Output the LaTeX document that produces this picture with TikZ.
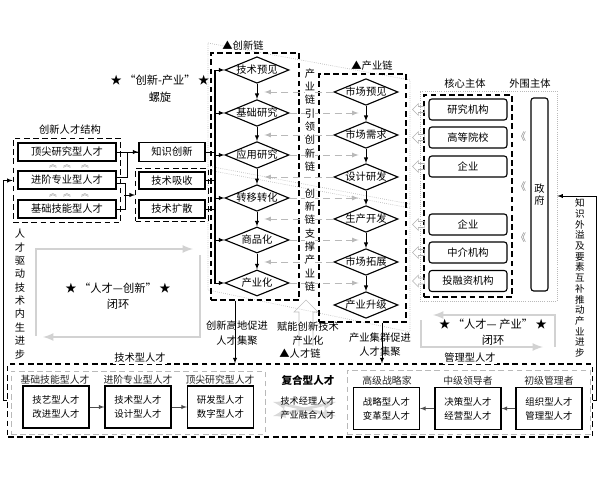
\documentclass[tikz,border=0pt]{standalone}
\usepackage{fontspec}
\setmainfont{Noto Sans CJK SC}
\usetikzlibrary{shapes.geometric,fit}
\tikzset{
  box/.style={draw,line width=0.8pt,minimum width=2.45cm,minimum height=0.45cm,inner sep=0pt},
  dbox/.style={draw,line width=0.8pt,dash pattern=on 4pt off 2.5pt},
  gdot/.style={draw=gray!55,densely dotted,line width=0.5pt},
  gdash/.style={draw=gray!55,dash pattern=on 4pt off 2.5pt,line width=0.6pt},
  dia/.style={draw,diamond,line width=0.8pt,aspect=2.4,inner sep=0pt,minimum width=1.6cm,minimum height=0.65cm},
  garrow/.style={draw=gray!55,dash pattern=on 5pt off 3pt,line width=0.6pt,->},
  rbox/.style={draw,rounded corners=2pt,line width=0.8pt,minimum width=1.95cm,minimum height=0.525cm,inner sep=0pt},
  gloop/.style={draw=gray!35,line width=1.5pt,->},
  vtext/.style={align=center,inner sep=0pt,font=\fontsize{7.3}{9.5}\selectfont},
  pbox/.style={draw,line width=0.8pt,align=center,minimum width=1.65cm,minimum height=1.05cm,font=\fontsize{6.7}{10}\selectfont},
  head/.style={text=gray!30!black,font=\fontsize{7}{9}\selectfont}
}
\begin{document}
\begin{tikzpicture}[x=0.025cm,y=-0.025cm,>=latex,font=\fontsize{7.3}{9}\selectfont]
  \useasboundingbox (0,0) rectangle (600,480);
  \draw[gdot] (208,43) -- (410,80) -- (410,332) -- (208,290) -- cycle;
  \draw[gdot] (208,166) -- (410,204);
  \draw[gdot] (208,170) -- (410,208);

  \node[align=center,font=\fontsize{8}{12}\selectfont] at (160,89) {★ “创新-产业” ★\\螺旋};
  \node at (70,130) {创新人才结构};
  \node[box] (t1) at (67,152) {顶尖研究型人才};
  \node[box] (t2) at (67,180) {进阶专业型人才};
  \node[box] (t3) at (67,209) {基础技能型人才};
  \node[dbox,fit=(t1)(t2)(t3),inner sep=3pt] (tt) {};
  \foreach \x in {53,67,85} {
    \node[gray,inner sep=0pt,font=\fontsize{5.5}{6}\selectfont] at (\x,166.5) {︽};
    \node[gray,inner sep=0pt,font=\fontsize{5.5}{6}\selectfont] at (\x,195) {︽};
  }
  \node[box,minimum width=1.65cm,minimum height=0.475cm] (k1) at (172,152) {知识创新};
  \node[box,minimum width=1.65cm,minimum height=0.425cm] (k2) at (172,180.5) {技术吸收};
  \node[box,minimum width=1.65cm,minimum height=0.45cm] (k3) at (172,209) {技术扩散};
  \node[dbox,fit=(k2)(k3),inner sep=2pt] (kt) {};
  \path[->] (t1) edge (k1);
  \draw ([yshift=2pt]t2.east) -- ++(11,0) |- (k1.west);
  \draw ([yshift=-2pt]t2.east) -- ++(9,0) |- (t3.east);
  \draw[<-] (kt.west) -- ++(-11,0);

  \node[dbox,minimum width=2.2cm,minimum height=6.175cm] (cbox) at (255,176.5) {};
  \node at (243,46) {▲创新链};
  \foreach \i/\t/\y in {1/技术预见/70,2/基础研究/113,3/应用研究/155,4/转移转化/198,5/商品化/240,6/产业化/283}
    \node[dia] (c\i) at (257,\y) {\t};
  \foreach \i/\j in {1/2,2/3,3/4,4/5,5/6}
    \path[->] (c\i) edge (c\j);
  \draw[line width=0.8pt] (215,70) -- (215,283);
  \foreach \i in {1,...,6}
    \draw[<-] (c\i.west) -- ++(-10,0);
  \draw (k1.east) -- ++(10,0);
  \draw (k2.east) -- ++(10,0);
  \draw (k3.east) -- ++(10,0);

  \node[dbox,minimum width=2.175cm,minimum height=6.2cm] (ibox) at (362.5,198) {};
  \node at (372,66) {▲产业链};
  \foreach \i/\t/\y in {1/市场预见/92,2/市场需求/135,3/设计研发/177,4/生产开发/219,5/市场拓展/262,6/产业升级/305}
    \node[dia] (p\i) at (366,\y) {\t};
  \foreach \i/\j in {1/2,2/3,3/4,4/5,5/6}
    \path[->] (p\i) edge (p\j);
  \foreach \i in {2,...,6}
    \draw[garrow] (c\i.east) -- ++(69,0);
  \foreach \i in {1,...,5}
    \draw[garrow] (p\i.west) -- ++(-69,0);
  \node[vtext,fill=white] at (310,120) {产\\业\\链\\引\\领\\创\\新\\链};
  \node[vtext,fill=white] at (310,240) {创\\新\\链\\支\\撑\\产\\业\\链};

  \node[gdot,minimum width=3.425cm,minimum height=5.25cm] (outer) at (488.5,196) {};
  \node[dbox,minimum width=2.2cm,minimum height=5.05cm] (core) at (468,196) {};
  \node at (465,84) {核心主体};
  \node at (530,84) {外围主体};
  \foreach \i/\t/\y in {1/研究机构/109.5,2/高等院校/137.5,3/企业/166.5,4/企业/224.5,5/中介机构/252.5,6/投融资机构/281}
    \node[rbox] (s\i) at (468,\y) {\t};
  \foreach \i in {1,...,6}
    \draw[gray!60] (s\i.west) ++(-4,-3) -- ++(-6,0) -- ++(0,-3) -- ++(-6,6) -- ++(6,6) -- ++(0,-3) -- ++(6,0) -- cycle;
  \node[rbox,minimum width=0.425cm,minimum height=4.825cm,align=center] (gov) at (539.5,194.5) {政\\府};
  \foreach \y in {137,187,238}
    \node[gray] at (521,\y) {《};

  \draw[gloop] (36,336) -- (36,249) -- (193,249);
  \draw[gloop] (200,255) -- (200,337) -- (43,337);
  \node[align=center,font=\fontsize{8}{11}\selectfont] at (118,296) {★ “人才—创新” ★\\闭环};
  \draw[gloop] (555,347) -- (555,315) -- (433,315);
  \draw[gloop] (421,320) -- (421,347) -- (543,347);
  \node[align=center,font=\fontsize{8}{11}\selectfont] at (493,332) {★ “人才— 产业” ★\\闭环};
  \node[vtext] at (20,294) {人\\才\\驱\\动\\技\\术\\内\\生\\进\\步};
  \node[vtext,font=\fontsize{6.8}{7.6}\selectfont] at (580,278) {知\\识\\外\\溢\\及\\要\\素\\互\\补\\推\\动\\产\\业\\进\\步};

  \draw[gray!50] (299,346) -- (299,312) -- (294,312) -- (306,300) -- (318,312) -- (313,312) -- (313,346);
  \node[align=center,font=\fontsize{7.3}{10.5}\selectfont] at (237,333.5) {创新高地促进\\人才集聚};
  \node[align=center,font=\fontsize{7.3}{10.5}\selectfont] at (308,333.5) {赋能创新技术\\产业化};
  \node at (300,354) {▲人才链};
  \node[align=center,font=\fontsize{7.3}{10}\selectfont] at (380,345) {产业集群促进\\人才集聚};

  \node[dbox,minimum width=14.6cm,minimum height=1.825cm] (bigbox) at (300,400.5) {};
  \draw[->] ([xshift=-0.5cm]cbox.south) -- ([xshift=-0.5cm]cbox.south |- bigbox.north);
  \draw[->] ([xshift=0.4875cm]ibox.south) -- ([xshift=0.4875cm]ibox.south |- bigbox.north);
  \draw[->] (bigbox.west) -- ++(-4,0) |- (tt.west);
  \draw[->] (bigbox.east) -- ++(4,0) |- (outer.east);
  \node[fill=white,inner sep=1pt] at (140,358) {技术型人才};
  \node[fill=white,inner sep=1pt] at (470,358) {管理型人才};

  \node[gdash,minimum width=6.35cm,minimum height=1.575cm] (tg) at (138,402.5) {};
  \node[head] at (55,380) {基础技能型人才};
  \node[head] at (138,380) {进阶专业型人才};
  \node[head] at (220,380) {顶尖研究型人才};
  \node[pbox] (b1) at (56,407) {技艺型人才\\改进型人才};
  \node[pbox] (b2) at (138,407) {技术型人才\\设计型人才};
  \node[pbox] (b3) at (220.5,407) {研发型人才\\数字型人才};
  \path[->,gray!60!black] (b1) edge (b2);
  \path[->,gray!60!black] (b2) edge (b3);

  \draw[gray!30,line width=2pt,<->] (273,402) -- (336,416);
  \draw[gray!30,line width=2pt,<->] (273,416) -- (336,402);
  \node[font=\fontsize{7.5}{9}\selectfont\bfseries] at (308,380) {复合型人才};
  \node[font=\fontsize{6.5}{8}\selectfont] at (308,401) {技术经理人才};
  \node[font=\fontsize{6.5}{8}\selectfont] at (308,415) {产业融合人才};

  \node[gdash,minimum width=6.075cm,minimum height=1.6cm] (mg) at (468.5,402) {};
  \node[head] at (387,381) {高级战略家};
  \node[head] at (468,381) {中级领导者};
  \node[head] at (549,381) {初级管理者};
  \node[pbox] (m1) at (386.5,408.5) {战略型人才\\变革型人才};
  \node[pbox] (m2) at (468,408.5) {决策型人才\\经营型人才};
  \node[pbox] (m3) at (549,408.5) {组织型人才\\管理型人才};
  \path[->,gray!60!black] (m3) edge (m2);
  \path[->,gray!60!black] (m2) edge (m1);
\end{tikzpicture}
\end{document}
